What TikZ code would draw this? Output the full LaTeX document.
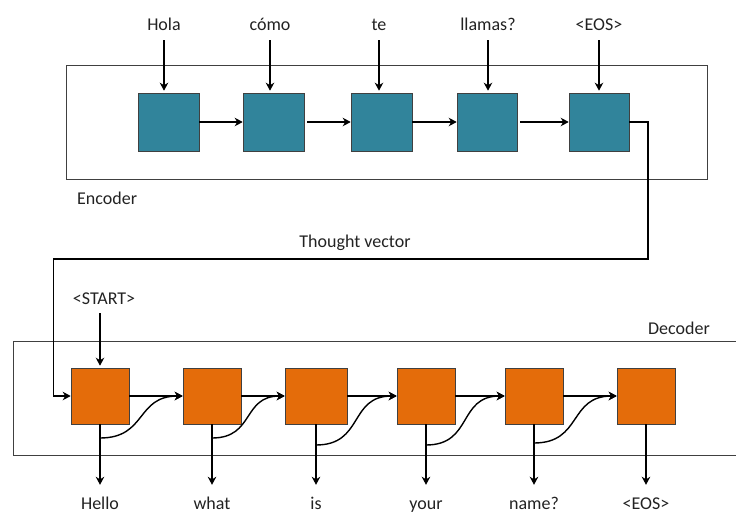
\documentclass[tikz,border=0pt]{standalone}
\usepackage{fontspec}
\setmainfont{Carlito}
\usetikzlibrary{arrows.meta}
\definecolor{encfill}{HTML}{31849B}
\definecolor{decfill}{HTML}{E46C0A}
\definecolor{frmcol}{HTML}{404040}
\definecolor{txtcol}{HTML}{222222}
\begin{document}
\begin{tikzpicture}[x=1pt,y=-1pt,
  lbl/.style={inner sep=0pt, text height=13pt, text depth=0pt, anchor=base,
    font=\fontsize{18}{20}\selectfont, text=txtcol},
  ebox/.style={draw=frmcol, line width=0.6pt, fill=encfill, minimum width=61pt,
    minimum height=58pt, inner sep=0pt},
  dbox/.style={draw=frmcol, line width=0.6pt, fill=decfill, minimum width=58pt,
    minimum height=56pt, inner sep=0pt},
  arr/.style={-{Stealth[length=8pt,width=8.5pt,inset=2.5pt]}, line width=1.4pt},
  frm/.style={draw=frmcol, line width=0.8pt}]
\useasboundingbox (0,0) rectangle (736,514);

% frames
\draw[frm] (66,65) rectangle (707,179);
\draw[frm] (737,341) -- (13,341) -- (13,455) -- (737,455);

% encoder boxes
\node[ebox] (e1) at (168.5,122) {};
\node[ebox] (e2) at (273.5,122) {};
\node[ebox] (e3) at (381.5,122) {};
\node[ebox, minimum width=60pt] (e4) at (487,122) {};
\node[ebox, minimum width=60pt] (e5) at (599,122) {};

% input words
\node[lbl] (i1) at (164,30) {Hola};
\node[lbl] (i2) at (270,30) {cómo};
\node[lbl] (i3) at (379,30) {te};
\node[lbl] (i4) at (488,30) {llamas?};
\node[lbl] (i5) at (599,30) {<EOS>};

\draw[arr, shorten <=10pt, shorten >=2pt] (i1.south) -- (i1.south |- e1.north);
\draw[arr, shorten <=10pt, shorten >=2pt] (i2.south) -- (i2.south |- e2.north);
\draw[arr, shorten <=10pt, shorten >=2pt] (i3.south) -- (i3.south |- e3.north);
\draw[arr, shorten <=10pt, shorten >=2pt] (i4.south) -- (i4.south |- e4.north);
\draw[arr, shorten <=10pt, shorten >=2pt] (i5.south) -- (i5.south |- e5.north);

% encoder chain
\draw[arr] (e1) -- (e2);
\draw[arr, shorten <=3pt] (e2) -- (e3);
\draw[arr] (e3) -- (e4);
\draw[arr, shorten <=3pt] (e4) -- (e5);

% labels
\node[lbl, anchor=base west] (enc) at (77,204) {Encoder};
\node[lbl] (tv) at (355,247) {Thought vector};
\node[lbl] (dec) at (679,334) {Decoder};
\node[lbl] (start) at (104,304) {<START>};

% decoder boxes
\node[dbox] (d1) at (100,396) {};
\node[dbox] (d2) at (212,396) {};
\node[dbox, minimum width=62pt] (d3) at (316,396) {};
\node[dbox] (d4) at (426,396) {};
\node[dbox] (d5) at (534,396) {};
\node[dbox] (d6) at (646,396) {};

% thought vector connector
\coordinate (tv1) at (648,259);
\coordinate (tv2) at (53.5,259);
\draw[arr] (e5.east) -| (tv1) -- (tv2) |- (d1.west);

% start arrow
\draw[arr, shorten <=9pt, shorten >=2pt] (start.south -| d1.north) -- (d1.north);

% decoder chain
\draw[arr] (d1) -- (d2);
\draw[arr] (d2) -- (d3);
\draw[arr] (d3) -- (d4);
\draw[arr] (d4) -- (d5);
\draw[arr] (d5) -- (d6);

% output words
\node[lbl] (o1) at (100,509.5) {Hello};
\node[lbl] (o2) at (212,509.5) {what};
\node[lbl] (o3) at (316,509.5) {is};
\node[lbl] (o4) at (426,509.5) {your};
\node[lbl] (o5) at (534,509.5) {name?};
\node[lbl] (o6) at (646,509.5) {<EOS>};

\draw[arr, shorten >=11.5pt] (d1.south) -- (d1.south |- o1.north);
\draw[arr, shorten >=11.5pt] (d2.south) -- (d2.south |- o2.north);
\draw[arr, shorten >=11.5pt] (d3.south) -- (d3.south |- o3.north);
\draw[arr, shorten >=11.5pt] (d4.south) -- (d4.south |- o4.north);
\draw[arr, shorten >=11.5pt] (d5.south) -- (d5.south |- o5.north);
\draw[arr, shorten >=11.5pt] (d6.south) -- (d6.south |- o6.north);

% feedback curves
\coordinate (c1) at (100,438);
\coordinate (c2) at (212,438);
\coordinate (c3) at (316,445);
\coordinate (c4) at (426,445);
\coordinate (c5) at (534,443);
\draw[arr] (c1) to[out=0,in=180,looseness=1.3] (d2.west);
\draw[arr] (c2) to[out=0,in=180,looseness=1.3] (d3.west);
\draw[arr] (c3) to[out=0,in=180,looseness=1.3] (d4.west);
\draw[arr] (c4) to[out=0,in=180,looseness=1.3] (d5.west);
\draw[arr] (c5) to[out=0,in=180,looseness=1.3] (d6.west);
\end{tikzpicture}
\end{document}
